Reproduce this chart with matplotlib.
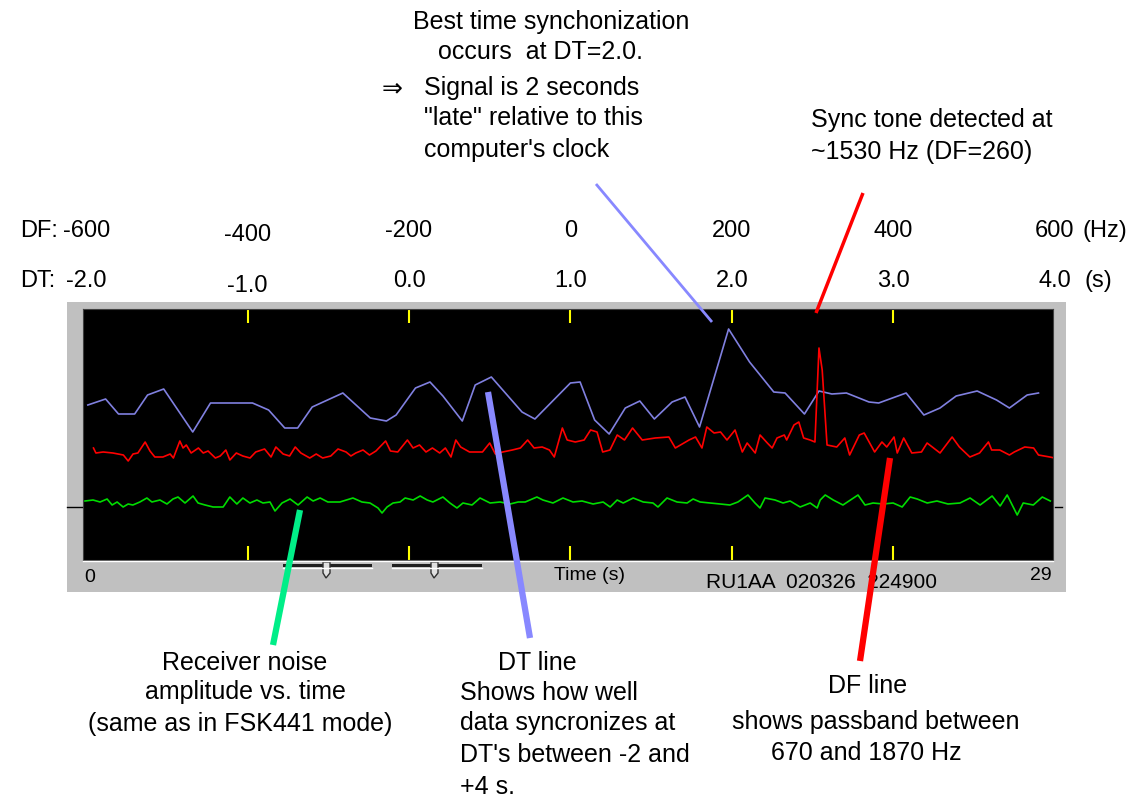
import matplotlib
matplotlib.use("Agg")
import matplotlib.pyplot as plt
from matplotlib.lines import Line2D
from matplotlib.patches import Rectangle, Polygon
from matplotlib.transforms import blended_transform_factory

plt.rcParams['font.family'] = ['Liberation Sans', 'DejaVu Sans']

# DT line: sync quality vs DT (s)
dt_x = [-1.99, -1.88, -1.80, -1.70, -1.62, -1.52, -1.34, -1.23, -1.09, -0.97,
        -0.87, -0.77, -0.69, -0.60, -0.41, -0.24, -0.14, -0.08, 0.04, 0.13,
        0.21, 0.33, 0.41, 0.51, 0.70, 0.78, 1.00, 1.06, 1.15, 1.24,
        1.34, 1.43, 1.52, 1.63, 1.71, 1.80, 1.98, 2.11, 2.26, 2.33,
        2.45, 2.54, 2.62, 2.71, 2.85, 2.91, 3.08, 3.19, 3.29, 3.39,
        3.52, 3.64, 3.72, 3.83, 3.90]
dt_sync = [155, 161, 146, 146, 165, 171, 128, 157, 157, 157,
           150, 132, 132, 153, 167, 142, 139, 145, 172, 178,
           164, 139, 175, 183, 148, 141, 177, 178, 140, 126,
           152, 159, 141, 158, 163, 133, 231, 198, 168, 167,
           146, 169, 166, 167, 158, 157, 167, 145, 152, 164,
           169, 160, 152, 165, 167]

# DF line: sync power vs DF (Hz)
df_x = [-591, -588, -579, -567, -554, -548, -542, -536, -527, -521,
        -515, -505, -496, -492, -484, -480, -476, -470, -461, -455,
        -449, -440, -434, -427, -422, -414, -406, -397, -390, -379,
        -371, -365, -356, -348, -341, -334, -323, -315, -307, -297,
        -288, -278, -272, -266, -257, -249, -241, -229, -223, -214,
        -202, -195, -187, -179, -171, -162, -155, -148, -142, -136,
        -125, -118, -109, -100, -93, -84, -72, -62, -53, -45,
        -35, -26, -20, -10, -4, 6, 17, 25, 33, 40,
        49, 58, 67, 77, 89, 105, 122, 130, 147, 155,
        163, 169, 178, 186, 194, 204, 213, 219, 229, 235,
        244, 250, 256, 265, 268, 277, 283, 289, 297, 303,
        308, 312, 318, 330, 340, 346, 358, 364, 377, 386,
        392, 401, 405, 413, 423, 435, 442, 458, 473, 482,
        495, 507, 518, 522, 532, 544, 550, 563, 574, 580,
        594, 600]
df_power = [112, 107, 108, 107, 105, 99, 106, 107, 118, 109,
            103, 103, 106, 102, 119, 112, 115, 107, 112, 107,
            109, 102, 104, 110, 100, 107, 104, 102, 108, 111,
            103, 113, 106, 104, 113, 107, 102, 106, 102, 104,
            111, 108, 104, 107, 110, 105, 109, 119, 109, 108,
            120, 112, 115, 108, 112, 107, 112, 103, 120, 113,
            108, 108, 108, 117, 106, 108, 110, 112, 120, 112,
            113, 110, 103, 132, 120, 118, 120, 130, 128, 108,
            110, 125, 120, 132, 120, 122, 123, 112, 120, 123,
            112, 133, 127, 128, 120, 130, 108, 117, 107, 125,
            117, 112, 122, 125, 120, 135, 138, 122, 120, 118,
            212, 190, 115, 113, 122, 105, 125, 127, 108, 118,
            113, 123, 107, 122, 107, 108, 117, 107, 123, 113,
            103, 107, 118, 110, 110, 105, 108, 113, 112, 105,
            103, 102]

# receiver noise amplitude vs time (s)
t_x = [0.06, 0.30, 0.51, 0.72, 0.87, 1.02, 1.20, 1.35, 1.49, 1.70,
       1.91, 2.06, 2.30, 2.51, 2.69, 2.84, 3.05, 3.29, 3.44, 3.65,
       3.89, 4.19, 4.39, 4.60, 4.78, 4.99, 5.20, 5.38, 5.59, 5.74,
       5.95, 6.19, 6.43, 6.70, 6.88, 7.09, 7.32, 7.68, 8.07, 8.34,
       8.58, 8.82, 8.94, 9.09, 9.27, 9.48, 9.63, 9.87, 10.08, 10.29,
       10.46, 10.76, 10.97, 11.18, 11.36, 11.63, 11.87, 12.17, 12.47, 12.77,
       13.01, 13.22, 13.57, 13.75, 14.05, 14.35, 14.65, 14.92, 15.25, 15.55,
       15.76, 15.97, 16.15, 16.45, 16.75, 17.04, 17.19, 17.46, 17.76, 18.06,
       18.24, 18.45, 18.75, 19.05, 19.34, 19.58, 19.88, 20.09, 20.24, 20.39,
       20.69, 20.93, 21.14, 21.44, 21.74, 21.95, 22.04, 22.19, 22.43, 22.72,
       22.99, 23.17, 23.38, 23.62, 23.92, 24.22, 24.49, 24.73, 24.94, 25.24,
       25.53, 25.86, 26.22, 26.52, 26.82, 27.18, 27.42, 27.63, 27.93, 28.11,
       28.41, 28.68, 28.92]
noise_amp = [59, 60, 58, 61, 55, 58, 53, 56, 55, 58,
             62, 58, 60, 56, 61, 63, 57, 64, 57, 55,
             53, 53, 63, 56, 62, 57, 60, 57, 58, 49,
             57, 61, 55, 63, 59, 62, 58, 58, 62, 58,
             57, 52, 47, 53, 57, 58, 62, 60, 64, 60,
             58, 63, 57, 52, 57, 55, 62, 57, 58, 56,
             58, 58, 63, 60, 57, 62, 58, 59, 56, 58,
             53, 60, 57, 62, 58, 57, 53, 62, 58, 57,
             61, 58, 57, 56, 55, 58, 65, 57, 52, 62,
             60, 57, 59, 53, 57, 52, 60, 65, 60, 55,
             61, 65, 55, 57, 56, 57, 53, 63, 61, 57,
             59, 56, 57, 62, 55, 64, 54, 65, 45, 57,
             55, 63, 59]

df_ticks = [-600, -400, -200, 0, 200, 400, 600]
dt_ticks = ["-2.0", "-1.0", "0.0", "1.0", "2.0", "3.0", "4.0"]
dt_vals = [-2, -1, 0, 1, 2, 3, 4]

W, H = 1132, 799
fig = plt.figure(figsize=(W / 100, H / 100), dpi=100)
fig.patch.set_facecolor('white')


def fx(px):
    return px / W


def fy(py):
    return 1 - py / H


# gray window panel
fig.patches.append(Rectangle((fx(67), fy(592)), (1066 - 67) / W, (592 - 302) / H,
                             transform=fig.transFigure, facecolor='#c0c0c0',
                             edgecolor='none', zorder=-5))

ax = fig.add_axes([fx(83), fy(560), (1053 - 83) / W, (560 - 309) / H])
ax.set_facecolor('black')
ax.set_xlim(-2.02, 3.99)
ax.set_ylim(0, 251)
for s in ax.spines.values():
    s.set_color('#404040')

ax_df = ax.twiny()
ax_df.set_xlim(-604, 598)
ax_df.set_xticks([])
ax_t = ax.twiny()
ax_t.set_xlim(0, 29)
ax_t.set_xticks([])
for a in (ax_df, ax_t):
    a.patch.set_visible(False)
    for s in a.spines.values():
        s.set_visible(False)

# yellow DT ticks on top and bottom edges (set after twiny, which resets them)
ax.set_xticks(dt_vals[1:-1])
ax.set_yticks([])
ax.tick_params(axis='x', direction='in', top=True, bottom=True, length=10,
               width=1.5, color='#ffff00', labelbottom=False, labeltop=False)

ax.plot(dt_x, dt_sync, color='#8080e0', lw=1.2)
ax_df.plot(df_x, df_power, color='#ff0000', lw=1.2)
ax_t.plot(t_x, noise_amp, color='#00dd00', lw=1.2)

# top scale labels (the -400 / -1.0 pair sits a little lower in the original)
tdf = blended_transform_factory(ax_df.transData, fig.transFigure)
tdt = blended_transform_factory(ax.transData, fig.transFigure)
fs = 17
for v in df_ticks:
    yy = 235 if v == -400 else 231
    ax.text(v, fy(yy), str(v), transform=tdf, ha='center', va='center', fontsize=fs)
for v, lab in zip(dt_vals, dt_ticks):
    yy = 286 if v == -1 else 281
    ax.text(v, fy(yy), lab, transform=tdt, ha='center', va='center', fontsize=fs)
fig.text(fx(20), fy(231), "DF:", ha='left', va='center', fontsize=fs)
fig.text(fx(20), fy(281), "DT:", ha='left', va='center', fontsize=fs)
fig.text(fx(1082), fy(231), "(Hz)", ha='left', va='center', fontsize=fs)
fig.text(fx(1085), fy(281), "(s)", ha='left', va='center', fontsize=fs)

# side markers
fig.add_artist(Line2D([fx(67), fx(82)], [fy(507)] * 2, color='black', lw=1))
fig.add_artist(Line2D([fx(1055), fx(1062)], [fy(507)] * 2, color='black', lw=1))
fig.add_artist(Line2D([fx(83), fx(1053)], [fy(561)] * 2, color='white', lw=1))

# bottom strip
fs2 = 14
fig.text(fx(84), fy(577), "0", ha='left', va='center', fontsize=fs2)
fig.text(fx(1052), fy(575), "29", ha='right', va='center', fontsize=fs2)
fig.text(fx(590), fy(576), "Time (s)", ha='center', va='center', fontsize=fs2)
fig.text(fx(706), fy(582), "RU1AA  020326  224900", ha='left', va='center', fontsize=15)
for g0, g1, th in [(283, 372, 323), (392, 482, 431)]:
    fig.patches.append(Rectangle((fx(g0), fy(567)), (g1 - g0) / W, 3 / H,
                                 transform=fig.transFigure, facecolor='#202020',
                                 edgecolor='none'))
    fig.add_artist(Line2D([fx(g0), fx(g1)], [fy(568)] * 2, color='white', lw=1))
    fig.patches.append(Polygon([(fx(th), fy(562)), (fx(th + 7), fy(562)), (fx(th + 7), fy(573)),
                                (fx(th + 3), fy(578)), (fx(th), fy(573))],
                               closed=True, transform=fig.transFigure,
                               facecolor='#e0e0e0', edgecolor='#303030', lw=1))

# pointer lines
pointers = [((300, 510), (273, 645), '#00ee88', 4.5),
            ((488, 392), (530, 638), '#8888ff', 4.5),
            ((890, 458), (860, 661), '#ff0000', 4.5),
            ((596, 184), (712, 322), '#8888ff', 2),
            ((863, 193), (816, 313), '#ff0000', 2.5)]
for (x0, y0), (x1, y1), c, w in pointers:
    fig.add_artist(Line2D([fx(x0), fx(x1)], [fy(y0), fy(y1)], color=c, lw=w,
                          solid_capstyle='butt', zorder=5))

# annotations
fs3 = 18
fig.text(fx(551), fy(22), "Best time synchonization", ha='center', va='center', fontsize=fs3)
fig.text(fx(540), fy(52), "occurs  at DT=2.0.", ha='center', va='center', fontsize=fs3)
fig.text(fx(382), fy(88), "\u21d2", ha='left', va='center', fontsize=fs3)
fig.text(fx(424), fy(88), "Signal is 2 seconds", ha='left', va='center', fontsize=fs3)
fig.text(fx(424), fy(118), "\"late\" relative to this", ha='left', va='center', fontsize=fs3)
fig.text(fx(424), fy(150), "computer's clock", ha='left', va='center', fontsize=fs3)
fig.text(fx(811), fy(120), "Sync tone detected at", ha='left', va='center', fontsize=fs3)
fig.text(fx(811), fy(152), "~1530 Hz (DF=260)", ha='left', va='center', fontsize=fs3)

fig.text(fx(245), fy(663), "Receiver noise", ha='center', va='center', fontsize=fs3)
fig.text(fx(245), fy(692), "amplitude vs. time", ha='center', va='center', fontsize=fs3)
fig.text(fx(240), fy(724), "(same as in FSK441 mode)", ha='center', va='center', fontsize=fs3)
fig.text(fx(537), fy(663), "DT line", ha='center', va='center', fontsize=fs3)
fig.text(fx(460), fy(693), "Shows how well", ha='left', va='center', fontsize=fs3)
fig.text(fx(460), fy(723), "data syncronizes at", ha='left', va='center', fontsize=fs3)
fig.text(fx(460), fy(755), "DT's between -2 and", ha='left', va='center', fontsize=fs3)
fig.text(fx(460), fy(787), "+4 s.", ha='left', va='center', fontsize=fs3)
fig.text(fx(868), fy(686), "DF line", ha='center', va='center', fontsize=fs3)
fig.text(fx(876), fy(722), "shows passband between", ha='center', va='center', fontsize=fs3)
fig.text(fx(866), fy(753), "670 and 1870 Hz", ha='center', va='center', fontsize=fs3)

fig.savefig("out.png", dpi=100)
